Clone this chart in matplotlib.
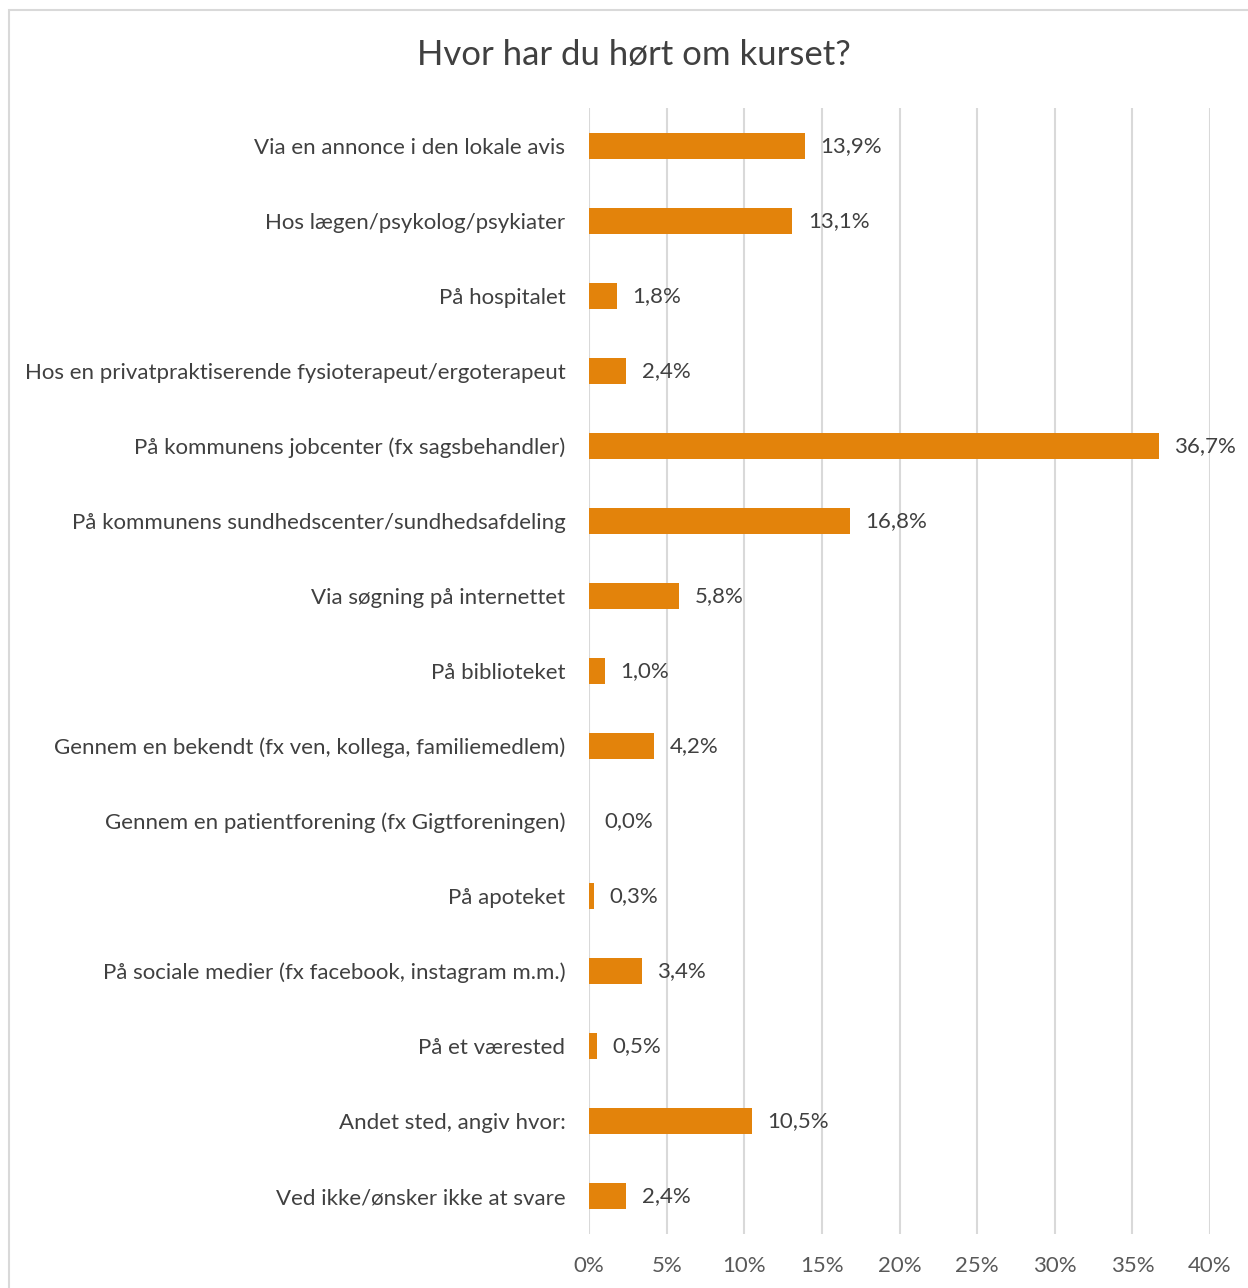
import matplotlib
matplotlib.use("Agg")
import matplotlib.pyplot as plt
from matplotlib.patches import Rectangle

# Survey answers, top to bottom as shown
categories = [
    "Via en annonce i den lokale avis",
    "Hos lægen/psykolog/psykiater",
    "På hospitalet",
    "Hos en privatpraktiserende fysioterapeut/ergoterapeut",
    "På kommunens jobcenter (fx sagsbehandler)",
    "På kommunens sundhedscenter/sundhedsafdeling",
    "Via søgning på internettet",
    "På biblioteket",
    "Gennem en bekendt (fx ven, kollega, familiemedlem)",
    "Gennem en patientforening (fx Gigtforeningen)",
    "På apoteket",
    "På sociale medier (fx facebook, instagram m.m.)",
    "På et værested",
    "Andet sted, angiv hvor:",
    "Ved ikke/ønsker ikke at svare",
]
values = [13.9, 13.1, 1.8, 2.4, 36.7, 16.8, 5.8, 1.0, 4.2, 0.0, 0.3, 3.4, 0.5, 10.5, 2.4]
ticks = [0, 5, 10, 15, 20, 25, 30, 35, 40]

plt.rcParams['font.family'] = ['Lato', 'DejaVu Sans']

fig = plt.figure(figsize=(12.48, 12.88), dpi=100)
ax = fig.add_axes([0.472, 0.0423, 0.4976, 0.8735])

# chart border
fig.patches.append(Rectangle((9 / 1248, -0.1), 1.2, 1 - 10 / 1288 + 0.1,
                             transform=fig.transFigure, fill=False,
                             edgecolor="#d9d9d9", linewidth=1.5))

pos = list(range(len(categories)))
ax.barh(pos, values, height=0.35, color="#e3830b", zorder=3)
for y, v in zip(pos, values):
    ax.text(v + 1.0, y, "{:.1f}%".format(v).replace(".", ","), va="center",
            ha="left", fontsize=16, color="#404040", zorder=4)

ax.set_ylim(len(categories) - 0.5, -0.5)
ax.set_xlim(0, 40)
ax.set_yticks(pos)
ax.set_yticklabels(categories, fontsize=16, color="#404040")
ax.set_xticks(ticks)
ax.set_xticklabels(["{}%".format(t) for t in ticks], fontsize=16, color="#595959")
ax.tick_params(axis="both", length=0)
ax.tick_params(axis="y", pad=17)
ax.tick_params(axis="x", pad=16)
ax.grid(axis="x", color="#d9d9d9", linewidth=1.5, zorder=0)
for s in ax.spines.values():
    s.set_visible(False)

fig.text(634 / 1248, 1 - 55 / 1288, "Hvor har du hørt om kurset?", ha="center",
         va="center", fontsize=25, color="#404040")

fig.savefig("out.png", dpi=100)
